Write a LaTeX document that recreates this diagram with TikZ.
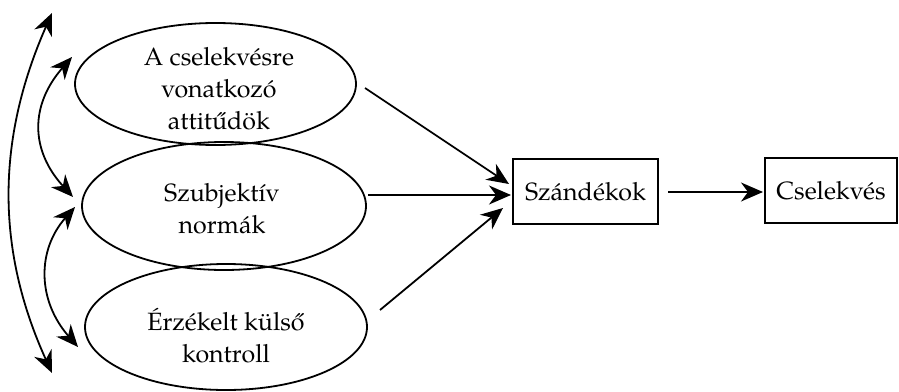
\documentclass[tikz,border=0pt]{standalone}
\usepackage{fontspec}
\setmainfont{TeX Gyre Pagella}
\usetikzlibrary{shapes.geometric,arrows.meta}
\begin{document}
\begin{tikzpicture}[x=1pt,y=-1pt,
  every node/.style={font=\fontsize{25}{32}\selectfont},
  oval/.style={draw,line width=1.8pt,ellipse,inner sep=0pt,align=center},
  boxnode/.style={draw,line width=1.8pt,rectangle,inner sep=0pt},
  conn/.style={line width=1.8pt,-{Stealth[length=22pt,width=19pt,inset=7pt]}},
  dconn/.style={line width=1.8pt,{Stealth[length=22pt,width=19pt,inset=7pt]}-{Stealth[length=22pt,width=19pt,inset=7pt]}}]
\useasboundingbox (0,0) rectangle (899,391);
\node[oval,minimum width=281pt,minimum height=122pt] (e1) at (215.5,84) {};
\node[oval,minimum width=284pt,minimum height=128pt] (e2) at (224,206) {};
\node[oval,minimum width=282pt,minimum height=126pt] (e3) at (226,327) {};
\node[align=center] (t1) at (219,89) {A cselekvésre\\vonatkozó\\attitűdök};
\node[align=center] (t2) at (222,209) {Szubjektív\\normák};
\node[align=center] (t3) at (226,336) {Érzékelt külső\\kontroll};
\node[boxnode,minimum width=145pt,minimum height=65pt] (sz) at (585.5,191.5) {Szándékok};
\node[boxnode,minimum width=132pt,minimum height=65pt] (cs) at (831,190.5) {Cselekvés};
% connector end points
\coordinate (a1s) at (365,88);
\coordinate (a1e) at (509,184);
\coordinate (a2s) at (368,195);
\coordinate (a2e) at (511,195);
\coordinate (a3s) at (380,310);
\coordinate (a3e) at (503,208);
\coordinate (bs) at (668,192);
\coordinate (be) at (763,192);
\coordinate (L1) at (52,13);
\coordinate (L2) at (52,373);
\coordinate (s1a) at (72,57);
\coordinate (s1b) at (73,197);
\coordinate (s2a) at (75,207);
\coordinate (s2b) at (78,347);
\draw[conn] (a1s) -- (a1e);
\draw[conn] (a2s) -- (a2e);
\draw[conn] (a3s) -- (a3e);
\draw[conn] (bs) -- (be);
\draw[dconn] (L1) .. controls (-4,140) and (-4,250) .. (L2);
\draw[dconn] (s1a) .. controls (30,105) and (30,150) .. (s1b);
\draw[dconn] (s2a) .. controls (37,250) and (37,300) .. (s2b);
\end{tikzpicture}
\end{document}
